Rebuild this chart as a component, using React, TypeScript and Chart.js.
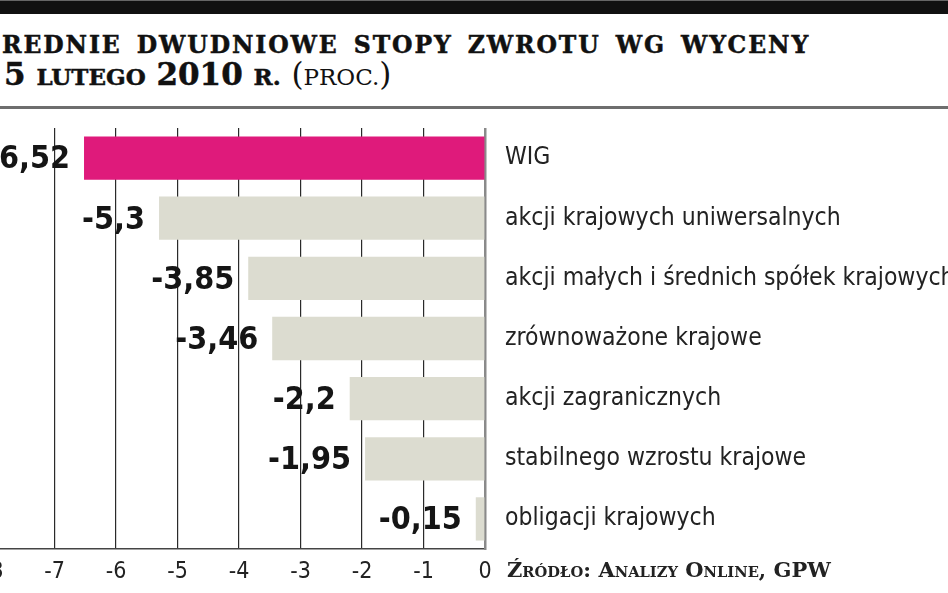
import { useEffect, useRef } from "react";
import Chart from "chart.js/auto";

/* ================= DATA ================= */

const categories = [
  "WIG",
  "akcji krajowych uniwersalnych",
  "akcji małych i średnich spółek krajowych",
  "zrównoważone krajowe",
  "akcji zagranicznych",
  "stabilnego wzrostu krajowe",
  "obligacji krajowych",
];

const returns = [-6.52, -5.3, -3.85, -3.46, -2.2, -1.95, -0.15];

const highlighted = ["WIG"];

/* ================= STYLE ================= */

const PINK = "#df1a7b";
const GRAY = "#dcdcd0";
const SANS = "'DejaVu Sans Condensed', 'Liberation Sans Narrow', sans-serif";
const SERIF = "'DejaVu Serif', 'Liberation Serif', serif";

const fmt = (v: number) => String(v).replace(".", ",");

// value labels drawn at the left end of every bar
const valueLabels = {
  id: "valueLabels",
  afterDatasetsDraw(chart: any) {
    const { ctx } = chart;
    const meta = chart.getDatasetMeta(0);
    ctx.save();
    ctx.font = `bold 32px ${SANS}`;
    ctx.fillStyle = "#151515";
    ctx.textAlign = "right";
    ctx.textBaseline = "middle";
    meta.data.forEach((bar: any, i: number) => {
      const { x, y } = bar.getProps(["x", "y"], true);
      ctx.fillText(fmt(returns[i]), x - 14, y + 2);
    });
    ctx.restore();
  },
};

const small = { fontSize: 23 };

export default function App() {
  const canvasRef = useRef<HTMLCanvasElement>(null);

  useEffect(() => {
    if (!canvasRef.current) return;

    const chart = new Chart(canvasRef.current, {
      type: "bar",
      data: {
        labels: categories,
        datasets: [
          {
            data: returns,
            backgroundColor: categories.map((c) =>
              highlighted.includes(c) ? PINK : GRAY
            ),
            borderWidth: 0,
            barPercentage: 0.72,
            categoryPercentage: 1,
          },
        ],
      },
      options: {
        indexAxis: "y",
        animation: false,
        responsive: true,
        maintainAspectRatio: false,
        layout: { padding: 0 },
        plugins: {
          legend: { display: false },
          tooltip: { enabled: false },
        },
        scales: {
          x: {
            type: "linear",
            position: "bottom",
            min: -8,
            max: 0,
            ticks: {
              stepSize: 1,
              color: "#222",
              padding: 9,
              font: { family: SANS, size: 23 },
            },
            grid: {
              color: (c: any) =>
                c.tick && c.tick.value === 0 ? "rgba(0,0,0,0)" : "#2a2a2a",
              lineWidth: 1.2,
              drawTicks: false,
            },
            border: { display: true, color: "#444", width: 1.5 },
            afterFit: (s: any) => {
              s.paddingLeft = 0;
              s.paddingRight = 0;
              s.height = 44;
            },
          },
          y: {
            position: "right",
            z: 1,
            grid: { display: false, drawTicks: false },
            border: { display: true, color: "#8a8a8a", width: 2.5 },
            ticks: {
              color: "#222",
              padding: 20,
              font: { family: SANS, size: 24.5 },
            },
            afterFit: (s: any) => {
              s.width = 463;
              s.paddingTop = 0;
              s.paddingBottom = 0;
            },
          },
        },
      },
      plugins: [valueLabels],
    });

    return () => chart.destroy();
  }, []);

  return (
    <div
      style={{
        position: "fixed",
        left: 0,
        top: 0,
        width: 948,
        height: 593,
        overflow: "hidden",
        background: "#fff",
      }}
    >
      <div
        style={{
          position: "absolute",
          left: 0,
          top: 0,
          width: 948,
          height: 13,
          background: "#111",
          borderTop: "1px solid #666",
        }}
      />

      {/* title, first letters cut by the left edge as in the source */}
      <div
        style={{
          position: "absolute",
          left: 2,
          top: 34,
          fontFamily: SERIF,
          fontWeight: "bold",
          fontSize: 23.5,
          lineHeight: 1,
          color: "#111",
          whiteSpace: "nowrap",
          letterSpacing: 1.9,
          wordSpacing: 5,
          WebkitTextStroke: "0.5px #111",
        }}
      >
        <span style={{ position: "absolute", right: "100%" }}>Ś</span>
        REDNIE DWUDNIOWE STOPY ZWROTU WG WYCENY
      </div>
      <div
        style={{
          position: "absolute",
          left: 4,
          top: 59,
          fontFamily: SERIF,
          fontWeight: "bold",
          fontSize: 31,
          lineHeight: 1,
          color: "#111",
          whiteSpace: "nowrap",
          WebkitTextStroke: "0.5px #111",
        }}
      >
        <span style={{ ...small, position: "absolute", right: "100%" }}>
          Z&nbsp;
        </span>
        5 <span style={small}>LUTEGO</span> 2010 <span style={small}>R.</span>{" "}
        <span style={{ fontWeight: "normal", WebkitTextStroke: "0" }}>
          (<span style={small}>PROC.</span>)
        </span>
      </div>

      <div
        style={{
          position: "absolute",
          left: 0,
          top: 106,
          width: 948,
          height: 3,
          background: "#6e6e6e",
        }}
      />

      <div
        style={{
          position: "absolute",
          left: -7,
          top: 128,
          width: 955,
          height: 465,
        }}
      >
        <canvas ref={canvasRef} />
      </div>

      <div
        style={{
          position: "absolute",
          left: 507,
          top: 558,
          fontFamily: SERIF,
          fontWeight: "bold",
          fontSize: 20,
          fontVariant: "small-caps",
          color: "#222",
          whiteSpace: "nowrap",
          transform: "scaleX(1.05)",
          transformOrigin: "left top",
        }}
      >
        Źródło: Analizy Online, GPW
      </div>
    </div>
  );
}
